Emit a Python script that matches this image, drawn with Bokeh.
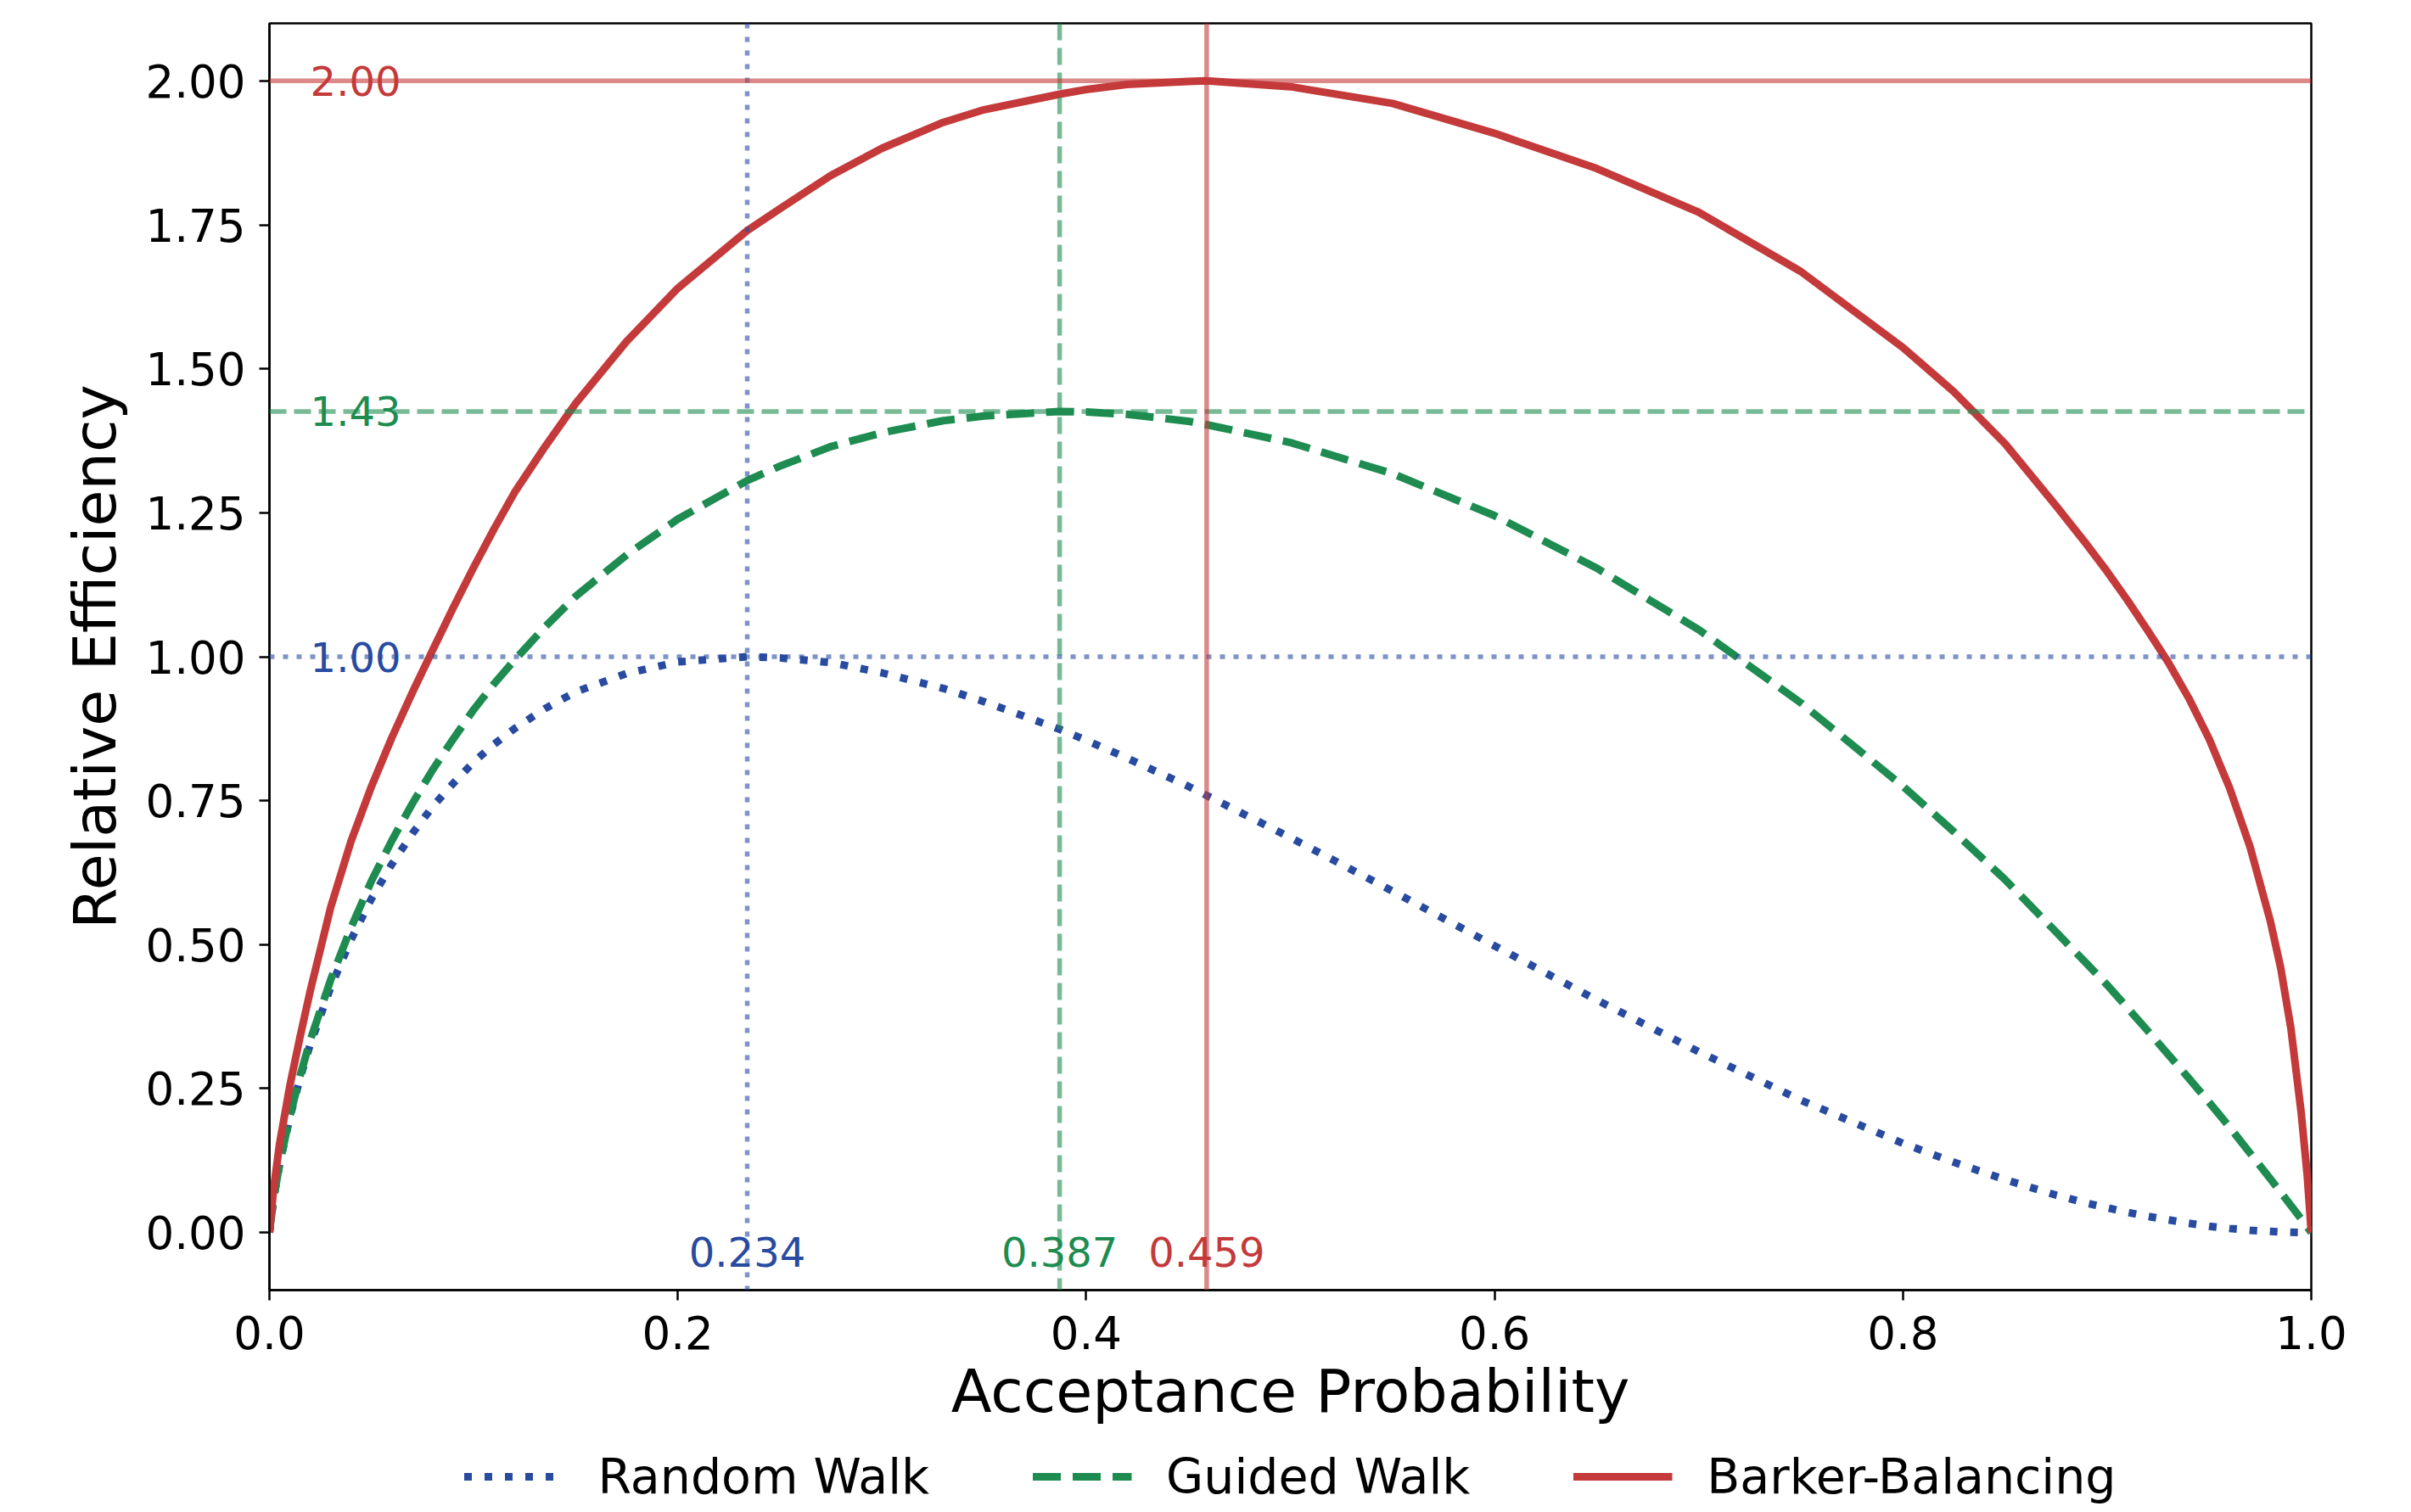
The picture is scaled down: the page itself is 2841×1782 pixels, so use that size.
from bokeh.plotting import figure
from bokeh.layouts import column
from bokeh.models import (Span, Legend, LegendItem, FixedTicker, PrintfTickFormatter,
                          ColumnDataSource, Range1d)
from bokeh.core.properties import value
from bokeh.embed import file_html
from bokeh.resources import INLINE

# ---------------- data ----------------
acceptance = [0.0, 0.002, 0.005, 0.01, 0.015, 0.02, 0.03, 0.04, 0.05, 0.06, 0.07, 0.08,
              0.09, 0.10, 0.11, 0.12, 0.135, 0.15, 0.175, 0.20, 0.234, 0.25, 0.275, 0.30,
              0.33, 0.35, 0.387, 0.40, 0.42, 0.45, 0.459, 0.50, 0.55, 0.60, 0.65, 0.70,
              0.75, 0.80, 0.825, 0.85, 0.875, 0.89, 0.90, 0.91, 0.92, 0.93, 0.94, 0.95,
              0.96, 0.97, 0.98, 0.985, 0.99, 0.995, 0.998, 1.0]

random_walk = [0.0, 0.058, 0.119, 0.200, 0.268, 0.327, 0.426, 0.509, 0.580, 0.640, 0.693,
               0.740, 0.780, 0.817, 0.848, 0.875, 0.910, 0.939, 0.971, 0.991, 1.000, 0.998,
               0.990, 0.972, 0.945, 0.922, 0.874, 0.855, 0.824, 0.775, 0.759, 0.686, 0.593,
               0.498, 0.404, 0.314, 0.230, 0.155, 0.122, 0.092, 0.065, 0.051, 0.043, 0.035,
               0.028, 0.022, 0.016, 0.011, 0.007, 0.004, 0.002, 0.001, 0.0005, 0.0001,
               0.0, 0.0]

guided_walk = [0.0, 0.058, 0.120, 0.202, 0.272, 0.334, 0.439, 0.530, 0.611, 0.681, 0.745,
               0.804, 0.857, 0.908, 0.953, 0.994, 1.052, 1.105, 1.177, 1.239, 1.306, 1.331,
               1.365, 1.389, 1.410, 1.418, 1.426, 1.425, 1.421, 1.409, 1.403, 1.372, 1.318,
               1.245, 1.154, 1.047, 0.920, 0.775, 0.696, 0.613, 0.522, 0.467, 0.430, 0.390,
               0.350, 0.309, 0.268, 0.226, 0.183, 0.138, 0.093, 0.070, 0.047, 0.024, 0.010,
               0.0]

barker_balancing = [0.0, 0.075, 0.155, 0.255, 0.340, 0.420, 0.565, 0.680, 0.775, 0.860,
                    0.938, 1.012, 1.085, 1.155, 1.222, 1.285, 1.365, 1.440, 1.548, 1.640,
                    1.740, 1.778, 1.836, 1.883, 1.928, 1.950, 1.977, 1.985, 1.994, 1.999,
                    2.000, 1.990, 1.961, 1.909, 1.848, 1.772, 1.669, 1.537, 1.460, 1.370,
                    1.262, 1.195, 1.148, 1.098, 1.045, 0.990, 0.928, 0.857, 0.772, 0.670,
                    0.540, 0.460, 0.355, 0.210, 0.100, 0.0]

series_names = ["Random Walk", "Guided Walk", "Barker-Balancing"]
optimal_acceptance = [0.234, 0.387, 0.459]
optimal_acceptance_labels = ["0.234", "0.387", "0.459"]
peak_efficiency = [1.00, 1.426, 2.00]
peak_efficiency_labels = ["1.00", "1.43", "2.00"]

x_ticks = [0.0, 0.2, 0.4, 0.6, 0.8, 1.0]
y_ticks = [0.0, 0.25, 0.5, 0.75, 1.0, 1.25, 1.5, 1.75, 2.0]

# ---------------- style ----------------
FONT = "DejaVu Sans"
colors = ["#284BA0", "#1E8C50", "#C43A3A"]
curve_dash = ["9 15", "33 14", "solid"]
ref_dash = ["6 10", "20 9", "solid"]
curves = [random_walk, guided_walk, barker_balancing]

W = 2825
p = figure(width=W, height=1706,
           x_range=Range1d(0.0, 1.0), y_range=Range1d(-0.1, 2.1),
           output_backend="svg", toolbar_location=None,
           min_border_left=317, min_border_right=102,
           min_border_top=27, min_border_bottom=186)
p.grid.visible = False
p.background_fill_color = "white"
p.border_fill_color = "white"
p.outline_line_color = "black"
p.outline_line_width = 2.5
p.outline_line_alpha = 1.0

# reference lines
for i in range(3):
    p.add_layout(Span(location=optimal_acceptance[i], dimension="height",
                      line_color=colors[i], line_width=5.5, line_alpha=0.6,
                      line_dash=ref_dash[i]))
    p.add_layout(Span(location=peak_efficiency[i], dimension="width",
                      line_color=colors[i], line_width=5.5, line_alpha=0.6,
                      line_dash=ref_dash[i]))

# curves
for i in range(3):
    src = ColumnDataSource(dict(x=acceptance, y=curves[i]))
    p.line("x", "y", source=src, line_color=colors[i], line_width=9,
           line_dash=curve_dash[i], line_join="round")

# annotations
left_src = ColumnDataSource(dict(
    x=[0.02] * 3, y=peak_efficiency, t=peak_efficiency_labels, c=colors))
p.text("x", "y", text="t", text_color="c", source=left_src,
       text_font=value(FONT), text_font_size="48px",
       text_align="left", text_baseline="middle")

bottom_src = ColumnDataSource(dict(
    x=optimal_acceptance, y=[-0.034] * 3, t=optimal_acceptance_labels, c=colors))
p.text("x", "y", text="t", text_color="c", source=bottom_src,
       text_font=value(FONT), text_font_size="48px",
       text_align="center", text_baseline="middle")

# axes
p.xaxis.ticker = FixedTicker(ticks=x_ticks)
p.yaxis.ticker = FixedTicker(ticks=y_ticks)
p.xaxis.formatter = PrintfTickFormatter(format="%.1f")
p.yaxis.formatter = PrintfTickFormatter(format="%.2f")
p.xaxis.axis_label = "Acceptance Probability"
p.yaxis.axis_label = "Relative Efficiency"
for ax in (p.xaxis[0], p.yaxis[0]):
    ax.axis_line_color = "black"
    ax.axis_line_width = 2.5
    ax.major_tick_in = 0
    ax.major_tick_out = 12
    ax.major_tick_line_width = 2.5
    ax.major_tick_line_color = "black"
    ax.minor_tick_line_color = None
    ax.major_label_text_font = FONT
    ax.major_label_text_font_size = "53px"
    ax.major_label_text_color = "black"
    ax.axis_label_text_font = FONT
    ax.axis_label_text_font_size = "70px"
    ax.axis_label_text_font_style = "normal"
    ax.axis_label_text_color = "black"
p.xaxis.major_label_standoff = 18
p.xaxis.axis_label_standoff = 6
p.yaxis.major_label_standoff = 16
p.yaxis.axis_label_standoff = 15

# ---------------- legend strip below the chart ----------------
lf = figure(width=W, height=68,
            x_range=Range1d(0.0, 1.0), y_range=Range1d(10.0, 11.0),
            output_backend="svg", toolbar_location=None,
            x_axis_location=None, y_axis_location=None,
            min_border_left=317, min_border_right=102,
            min_border_top=0, min_border_bottom=0)
lf.grid.visible = False
lf.outline_line_color = None
lf.background_fill_color = "white"
lf.border_fill_color = "white"

legend_renderers = []
for i in range(3):
    src = ColumnDataSource(dict(x=acceptance, y=curves[i]))
    r = lf.line("x", "y", source=src, line_color=colors[i], line_width=9,
                line_dash=curve_dash[i])
    legend_renderers.append(r)

items = [LegendItem(label=series_names[i], renderers=[legend_renderers[i]])
         for i in range(3)]
legend = Legend(items=items, orientation="horizontal", location="center",
                glyph_width=117, glyph_height=40, label_standoff=41, spacing=121,
                label_text_font=FONT, label_text_font_size="57px",
                label_text_color="black", label_height=40,
                padding=0, margin=0, border_line_color=None,
                background_fill_alpha=0.0)
lf.add_layout(legend, "center")

layout = column(p, lf, spacing=0)
open("out.html", "w").write(file_html(layout, INLINE))
